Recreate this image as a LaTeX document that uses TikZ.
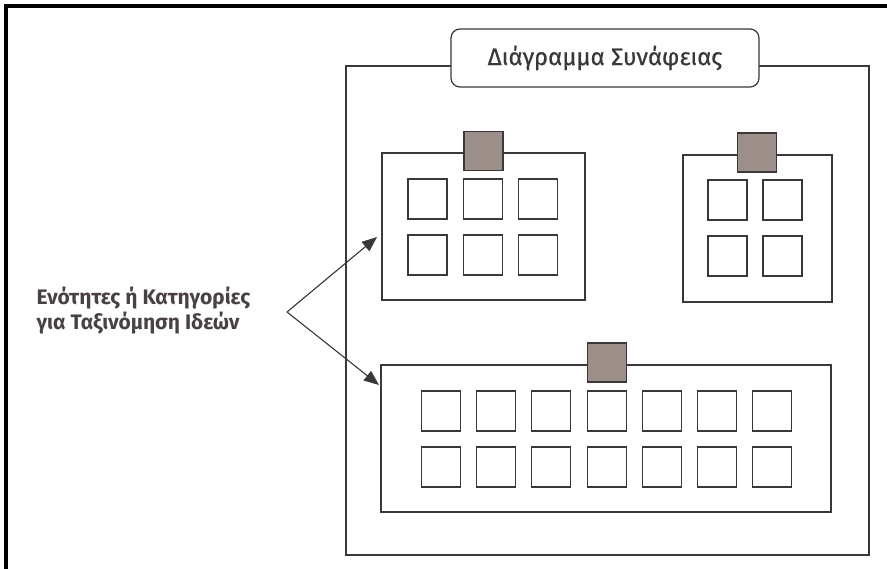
\documentclass[tikz,border=0pt]{standalone}
\usepackage{fontspec}
\setmainfont{Fira Sans}
\usetikzlibrary{arrows.meta}
\definecolor{ink}{HTML}{3A3838}
\definecolor{tabfill}{HTML}{9C8E89}
\definecolor{labelink}{HTML}{4A4242}
\begin{document}
\begin{tikzpicture}[x=1pt,y=-1pt,
  panel/.style={draw=ink, line width=1.2pt, fill=white, inner sep=0pt},
  cell/.style={draw=ink, line width=1.1pt, fill=white, minimum width=39pt, minimum height=40pt, inner sep=0pt},
  tabsq/.style={draw=ink, line width=1.1pt, fill=tabfill, minimum width=39pt, minimum height=39pt, inner sep=0pt},
  pointer/.style={draw=ink, line width=1.1pt, -{Triangle[length=15pt,width=12pt]}}]
\useasboundingbox (0,0) rectangle (887,569);
\fill[white] (0,0) rectangle (887,569);
% heavy frame along the left and top
\draw[line width=4pt, black] (6,569) -- (6,6) -- (887,6);

% board and its title tab
\node[panel, minimum width=523pt, minimum height=489pt] (board) at (607.5,310.5) {};
\node[panel, rounded corners=9pt, minimum width=308pt, minimum height=58pt,
      font=\fontsize{24}{28}\selectfont\addfontfeature{FakeBold=0.6}, text=ink] (title) at (605,58) {Διάγραμμα Συνάφειας};

% three groups
\node[panel, minimum width=203pt, minimum height=147pt] (grpA) at (483.5,226.5) {};
\node[panel, minimum width=149pt, minimum height=147pt] (grpB) at (757.5,228.5) {};
\node[panel, minimum width=450pt, minimum height=147pt] (grpC) at (606,438.5) {};

% header squares
\node[tabsq] (tabA) at (483.5,151) {};
\node[tabsq] (tabB) at (757,152.5) {};
\node[tabsq] (tabC) at (607,362.5) {};

% cards inside each group
\foreach \c/\x in {1/427.5,2/483,3/538}
  \foreach \r/\y in {1/199,2/255}
    \node[cell] (a\r\c) at (\x,\y) {};
\foreach \c/\x in {1/727.5,2/782.5}
  \foreach \r/\y in {1/200,2/256}
    \node[cell] (b\r\c) at (\x,\y) {};
\foreach \c in {0,...,6}
  \foreach \r/\y in {1/411,2/467}
    \node[cell] (c\r\c) at ({441+55.2*\c},\y) {};

% side label and its pointers
\node[anchor=west, align=left, text=labelink, font=\fontsize{21}{25}\selectfont\bfseries]
  (note) at (33,311) {Ενότητες ή Κατηγορίες\\για Ταξινόμηση Ιδεών};
\coordinate (apex) at (287,312);
\coordinate (tipA) at (377,237);
\coordinate (tipC) at (379,385);
\draw[pointer] (apex) -- (tipA);
\draw[pointer] (apex) -- (tipC);
\end{tikzpicture}
\end{document}
